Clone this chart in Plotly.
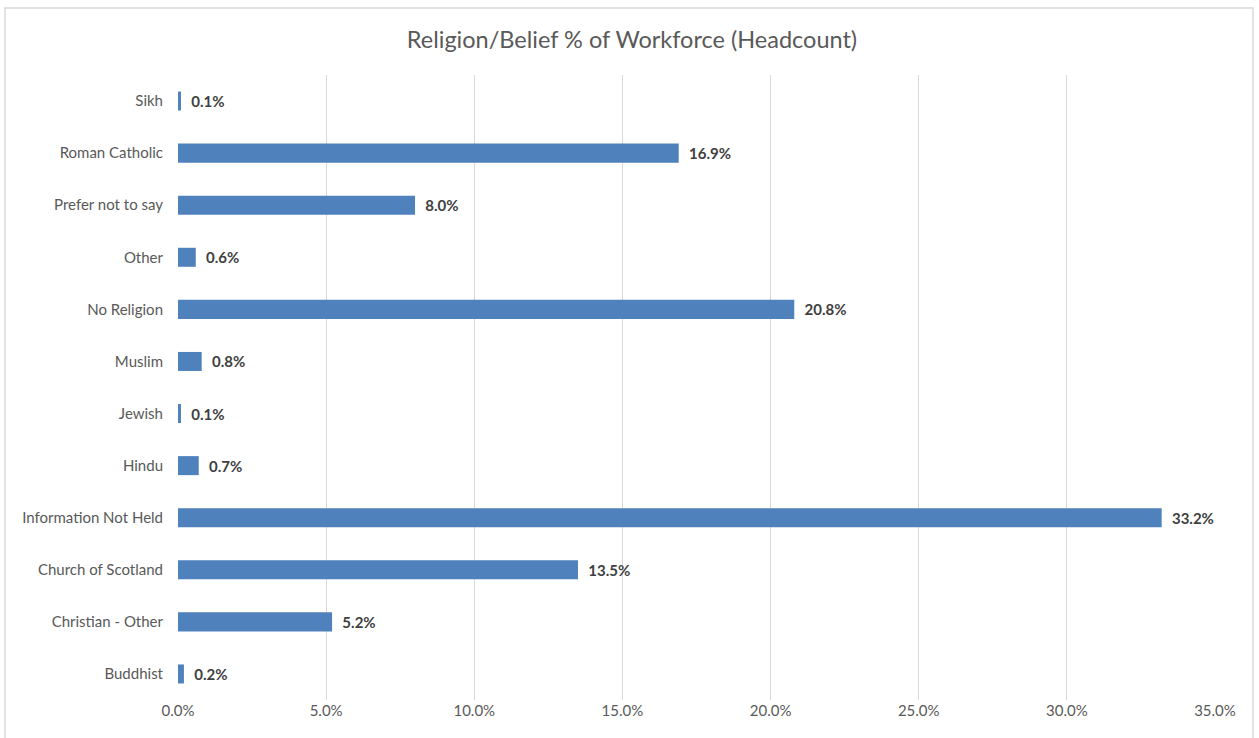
import plotly.graph_objects as go

categories = ["Buddhist", "Christian - Other", "Church of Scotland", "Information Not Held",
              "Hindu", "Jewish", "Muslim", "No Religion", "Other", "Prefer not to say",
              "Roman Catholic", "Sikh"]
values = [0.2, 5.2, 13.5, 33.2, 0.7, 0.1, 0.8, 20.8, 0.6, 8.0, 16.9, 0.1]
x_ticks = [0, 5, 10, 15, 20, 25, 30, 35]
x_tick_labels = ["0.0%", "5.0%", "10.0%", "15.0%", "20.0%", "25.0%", "30.0%", "35.0%"]

FONT = "Lato"

fig = go.Figure(go.Bar(
    y=categories,
    x=values,
    orientation="h",
    marker=dict(color="#4F81BD", line=dict(width=0)),
    text=["  " + f"{v:.1f}%" for v in values],
    textposition="outside",
    cliponaxis=False,
    textfont=dict(family=FONT, size=15, color="#404040", weight="bold"),
    hoverinfo="skip",
))

fig.update_layout(
    width=1259, height=738,
    margin=dict(l=178, r=44, t=75, b=38),
    paper_bgcolor="white", plot_bgcolor="white",
    bargap=0.635,
    showlegend=False,
    title=dict(text="Religion/Belief % of Workforce (Headcount)",
               x=632 / 1259, xref="container", xanchor="center",
               y=1 - 40 / 738, yref="container", yanchor="middle",
               font=dict(family=FONT, size=23.5, color="#595959")),
    font=dict(family=FONT, size=15, color="#595959"),
    xaxis=dict(range=[0, 35], tickvals=x_ticks, ticktext=x_tick_labels,
               showgrid=True, gridcolor="#D9D9D9", gridwidth=1,
               zeroline=False, showline=False, ticks="",
               tickfont=dict(family=FONT, size=15, color="#595959")),
    yaxis=dict(showgrid=False, zeroline=False, showline=False, ticks="",
               ticklabelstandoff=14,
               tickfont=dict(family=FONT, size=15, color="#595959")),
    shapes=[
        dict(type="rect", xref="paper", yref="paper",
             x0=(5 - 178) / 1037, x1=(1253 - 178) / 1037,
             y0=(700 - 760) / 625, y1=(700 - 8) / 625,
             line=dict(color="#D9D9D9", width=1.5), fillcolor="rgba(0,0,0,0)", layer="below"),
    ],
)

fig.write_html("out.html",
               config={"displayModeBar": False},
               post_script="document.body.style.margin='0px';document.body.style.overflow='hidden';")
